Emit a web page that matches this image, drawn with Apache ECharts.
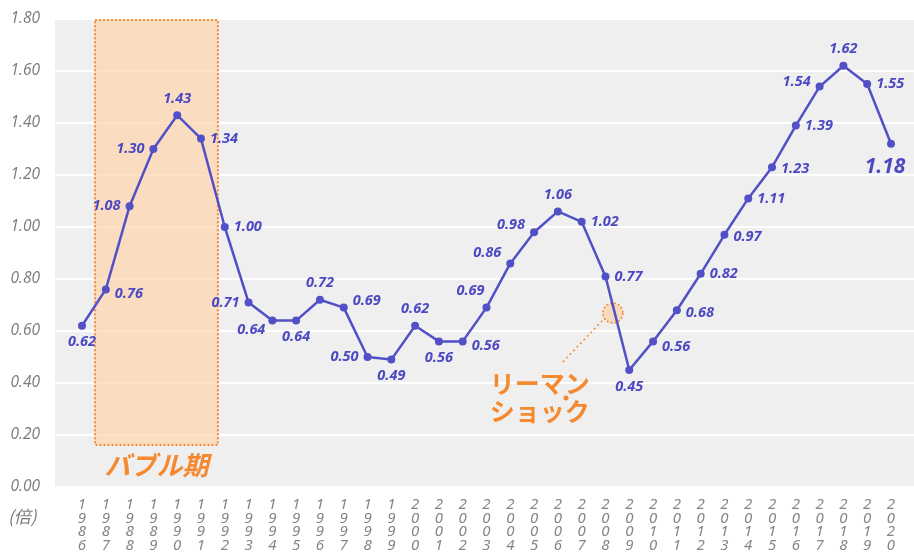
<!DOCTYPE html>
<html><head><meta charset="utf-8">
<script src="https://cdn.jsdelivr.net/npm/echarts@6/dist/echarts.min.js"></script>
<style>html,body{margin:0;padding:0;background:#fff}#c{width:914px;height:556px}</style>
</head><body><div id="c"></div>
<script>
// ---- data ----
const years = [1986,1987,1988,1989,1990,1991,1992,1993,1994,1995,1996,1997,1998,1999,2000,2001,2002,2003,2004,2005,2006,2007,2008,2009,2010,2011,2012,2013,2014,2015,2016,2017,2018,2019,2020];
// plotted positions
const ratios = [0.62,0.76,1.08,1.30,1.43,1.34,1.00,0.71,0.64,0.64,0.72,0.69,0.50,0.49,0.62,0.56,0.56,0.69,0.86,0.98,1.06,1.02,0.81,0.45,0.56,0.68,0.82,0.97,1.11,1.23,1.39,1.54,1.62,1.55,1.32];
// values printed next to the points
const printedRatios = [0.62,0.76,1.08,1.30,1.43,1.34,1.00,0.71,0.64,0.64,0.72,0.69,0.50,0.49,0.62,0.56,0.56,0.69,0.86,0.98,1.06,1.02,0.77,0.45,0.56,0.68,0.82,0.97,1.11,1.23,1.39,1.54,1.62,1.55,1.18];
const yTicks = [0,0.2,0.4,0.6,0.8,1.0,1.2,1.4,1.6,1.8];
const bubbleRange = [1986.55, 1991.71];
const bubbleText = 'バブル期';
const lehmanText = ['リーマン','ショック'];
const unitText = '(倍)';

// ---- label placement (style config) ----
const place = {
 1986:['bottom',[0,0]],1987:['right',[0,4]],1988:['left',[0,0]],1989:['left',[0,0]],1990:['top',[0,0]],
 1991:['right',[0,0]],1992:['right',[0,0]],1993:['left',[0,0]],1994:['left',[2,9]],1995:['bottom',[0,0]],
 1996:['top',[0,0]],1997:['right',[0,-7]],1998:['left',[0,0]],1999:['bottom',[0,0]],2000:['top',[0,0]],
 2001:['bottom',[0,0]],2002:['right',[0,4]],2003:['top',[-16,0]],2004:['left',[0,-11]],2005:['left',[0,-7]],
 2006:['top',[0,0]],2007:['right',[0,0]],2008:['right',[0,0]],2009:['bottom',[0,0]],2010:['right',[0,5]],
 2011:['right',[0,3]],2012:['right',[0,0]],2013:['right',[0,2]],2014:['right',[0,0]],2015:['right',[0,2]],
 2016:['right',[0,0]],2017:['left',[0,-5]],2018:['top',[0,0]],2019:['right',[0,0]],2020:['bottom',[-6,4]]
};

const blue = '#5250c6';
const labelBlue = '#4c49c2';
const orange = '#f5892f';
const fontF = '"Open Sans","Noto Sans",sans-serif';

const seriesData = years.map((y,i)=>{
  const p = place[y];
  const big = (y===2020);
  return {
    value:[y, ratios[i]],
    label:{show:true, position:p[0], offset:p[1], distance:5,
      formatter: printedRatios[i].toFixed(2),
      color:labelBlue, fontWeight:'bold', fontStyle:'italic',
      fontFamily:fontF, fontSize: big?21:14.5}
  };
});

const chart = echarts.init(document.getElementById('c'), null, {renderer:'canvas'});
chart.setOption({
  animation:false,
  grid:[
    {left:55, right:0, top:19, bottom:69, show:true, backgroundColor:'#efefef', borderWidth:0},
    {left:82, right:23, top:19, bottom:69}
  ],
  xAxis:[
    {gridIndex:0, type:'value', show:false, min:0, max:1},
    {gridIndex:1, type:'value', min:years[0], max:years[years.length-1], interval:1,
     axisLine:{show:false}, axisTick:{show:false}, splitLine:{show:false},
     axisLabel:{margin:11, color:'#858585', fontStyle:'italic', fontFamily:'"Noto Sans",sans-serif', fontSize:15, lineHeight:13.5,
       verticalAlign:'top',
       formatter:v=>String(v).split('').join('\n')}}
  ],
  yAxis:[
    {gridIndex:0, type:'value', min:yTicks[0], max:yTicks[yTicks.length-1], interval:0.2,
     axisLine:{show:false}, axisTick:{show:false},
     splitLine:{show:true, lineStyle:{color:'#ffffff', width:2}},
     axisLabel:{margin:15, color:'#7a7a7a', fontStyle:'italic', fontFamily:fontF, fontSize:15.5,
       formatter:v=>v.toFixed(2)}},
    {gridIndex:1, type:'value', min:yTicks[0], max:yTicks[yTicks.length-1], show:false, splitLine:{show:false}}
  ],
  graphic:[
    {type:'text', left:8, top:508, style:{text:unitText, fill:'#7a7a7a', font:'italic 17px "Noto Sans CJK JP", sans-serif'}}
  ],
  series:[
    {
      type:'line', xAxisIndex:1, yAxisIndex:1, z:5,
      data:seriesData,
      symbol:'circle', symbolSize:8,
      lineStyle:{color:blue, width:2.5},
      itemStyle:{color:blue},
      markArea:{
        silent:true,
        itemStyle:{color:'rgba(253,212,174,0.72)', borderColor:orange, borderWidth:2, borderType:[2,2]},
        label:{show:true, position:'bottom', distance:6, formatter:bubbleText, color:orange,
          fontSize:26, fontWeight:'bold', fontStyle:'italic', fontFamily:'"Noto Sans CJK JP",sans-serif'},
        data:[[{xAxis:bubbleRange[0], yAxis:1.796},{xAxis:bubbleRange[1], yAxis:0.162}]]
      },
      markLine:{
        silent:true, symbol:'none', label:{show:false},
        lineStyle:{color:orange, width:1.5, type:[2,3]},
        data:[[{coord:[2006.21,0.481]},{coord:[2007.97,0.65]}]]
      },
      markPoint:{
        silent:true,
        data:[
          {coord:[2008.31,0.669], symbol:'circle', symbolSize:20,
           itemStyle:{color:'rgba(251,208,168,0.7)', borderColor:orange, borderWidth:1.5, borderType:[2,2]},
           label:{show:false}},
          {coord:[2005.24,0.346], symbol:'circle', symbolSize:0,
           label:{show:true, position:'inside', formatter:lehmanText.join('\n'), color:orange,
             fontSize:25, lineHeight:28, fontWeight:'bold', fontFamily:'"Noto Sans CJK JP",sans-serif'}},
          {coord:[2006.34,0.342], symbol:'circle', symbolSize:5, itemStyle:{color:orange}, label:{show:false}}
        ]
      }
    }
  ]
});
</script></body></html>
